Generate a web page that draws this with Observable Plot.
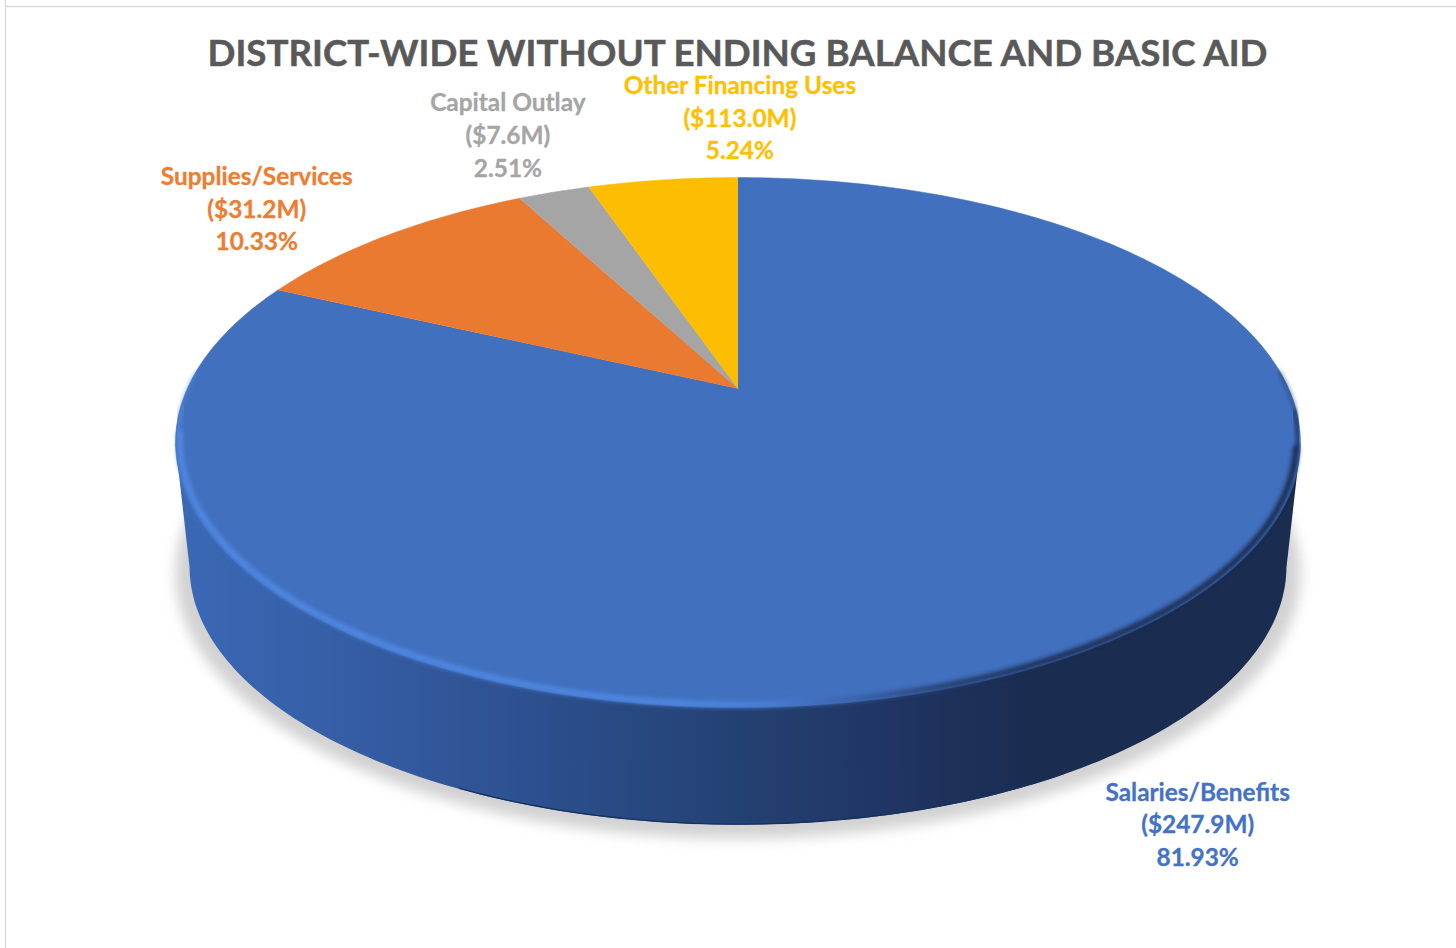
<!DOCTYPE html>
<html>
<head>
<meta charset="utf-8">
<script src="https://cdn.jsdelivr.net/npm/d3@7"></script>
<script src="https://cdn.jsdelivr.net/npm/@observablehq/plot@0.6"></script>
<style>
html,body{margin:0;padding:0;background:#fff;overflow:hidden}
svg{display:block}
</style>
</head>
<body>
<div id="chart"></div>
<script>
const titleText = "DISTRICT-WIDE WITHOUT ENDING BALANCE AND BASIC AID";
const categories = ["Salaries/Benefits", "Supplies/Services", "Capital Outlay", "Other Financing Uses"];
const amounts = ["$247.9M", "$31.2M", "$7.6M", "$113.0M"];
const percents = [81.93, 10.33, 2.51, 5.24];
const colors = ["#4170bf", "#ea7a30", "#a5a5a5", "#fdbd00"];
const textColors = ["#4472c4", "#ed7d31", "#a5a5a5", "#ffc000"];

// Perspective view of the pie disc (chart units are the frame's pixels)
const cx = 737.5, apexY = 388, persp = 0.2038, radiusX = 550.7, radiusY = 174.9;
const wallScale = 0.975, wallDrop = 124, faceMidY = 442;
function project(deg, r = 1) {
  const a = deg * Math.PI / 180, u = r * Math.sin(a), v = r * Math.cos(a), w = 1 + persp * v;
  return {x: cx + radiusX * u / w, y: (apexY - radiusY * v) / w};
}
function lowered(p, k = wallScale, drop = wallDrop) {
  return {x: cx + (p.x - cx) * k, y: faceMidY + drop + (p.y - faceMidY) * k};
}
function sweep(from, to, fn) {
  const out = [], n = Math.max(2, Math.ceil(Math.abs(to - from)));
  for (let i = 0; i <= n; i++) out.push(fn(from + (to - from) * i / n));
  return out;
}

// Slices
const total = d3.sum(percents);
let running = 0;
const slices = categories.map((name, i) => {
  const start = running / total * 360;
  running += percents[i];
  const end = running / total * 360;
  return {name, i, start, end, mid: (start + end) / 2};
});
const slicePts = slices.flatMap(s => [
  {name: s.name, ...project(0, 0)},
  ...sweep(s.start, s.end, d => ({name: s.name, ...project(d)}))
]);

// Disc outline: left-most and right-most points of the rim
const rim = sweep(0, 360, d => project(d));
const leftDeg = d3.least(d3.range(180, 360), d => project(d).x);
const rightDeg = d3.greatest(d3.range(0, 180), d => project(d).x);
const wallPts = [
  project(leftDeg),
  ...sweep(leftDeg, rightDeg, d => lowered(project(d))),
  project(rightDeg)
];
const bottomEdge = sweep(205, 150, d => lowered(project(d), wallScale, wallDrop - 0.8));
const shadowPts = rim.map(p => lowered(p, 1.0, 131));
// Bevel along the rim, thinning out towards its two ends
const bevels = [
  {pts: sweep(leftDeg + 16, leftDeg + 8, d => project(d, 0.9985)), width: 1.6},
  {pts: sweep(leftDeg + 8, leftDeg + 2, d => project(d, 0.996)), width: 3.5},
  {pts: sweep(leftDeg + 2, rightDeg + 1, d => project(d, 0.9925)), width: 6},
  {pts: sweep(rightDeg + 1, rightDeg - 7, d => project(d, 0.996)), width: 3.5},
  {pts: sweep(rightDeg - 7, rightDeg - 16, d => project(d, 0.9985)), width: 1.6}
];

// Label anchors: rim point at the slice's mid-angle, pushed out by a placement offset
const labelOffsetX = [102, -131, -46, 77];
const labelOffsetY = [176, -28, -58.5, -63.5];
const labels = slices.map((s, i) => {
  const p = project(s.mid);
  return {
    x: p.x + labelOffsetX[i], y: p.y + labelOffsetY[i], name: s.name,
    text: `${s.name}\n(${amounts[i]})\n${percents[i].toFixed(2)}%`
  };
});

function defs() {
  const g = document.createElementNS("http://www.w3.org/2000/svg", "defs");
  g.innerHTML = `
  <linearGradient id="wallFill" gradientUnits="userSpaceOnUse" x1="175" x2="1300" y1="0" y2="0">
    <stop offset="0" stop-color="#3b69b6"/>
    <stop offset="0.2" stop-color="#335a9f"/>
    <stop offset="0.36" stop-color="#2a4c88"/>
    <stop offset="0.52" stop-color="#233f70"/>
    <stop offset="0.66" stop-color="#1f3360"/>
    <stop offset="0.76" stop-color="#1a2c50"/>
    <stop offset="1" stop-color="#1a2c50"/>
  </linearGradient>
  <linearGradient id="bevelStroke" gradientUnits="userSpaceOnUse" x1="175" x2="1300" y1="0" y2="0">
    <stop offset="0" stop-color="#4f88e2"/>
    <stop offset="0.45" stop-color="#4f88e2"/>
    <stop offset="0.52" stop-color="#4b80d8"/>
    <stop offset="0.6" stop-color="#3a63ad"/>
    <stop offset="0.68" stop-color="#26406f"/>
    <stop offset="0.78" stop-color="#1b2e54"/>
    <stop offset="1" stop-color="#1a2c50"/>
  </linearGradient>
  <filter id="soft" x="-10%" y="-10%" width="120%" height="120%"><feGaussianBlur stdDeviation="2"/></filter>
  <filter id="edge" x="-10%" y="-10%" width="120%" height="120%"><feGaussianBlur stdDeviation="0.6"/></filter>
  <filter id="shade" x="-10%" y="-10%" width="120%" height="130%"><feGaussianBlur stdDeviation="6.5"/></filter>`;
  return g;
}
const withFilter = id => (index, scales, values, dims, ctx, next) => {
  const g = next(index, scales, values, dims, ctx);
  g.setAttribute("filter", `url(#${id})`);
  return g;
};

const font = "Lato, Carlito, Calibri, sans-serif";
const plot = Plot.plot({
  width: 1456, height: 948,
  margin: 0,
  x: {axis: null, domain: [0, 1456]},
  y: {axis: null, domain: [948, 0]},
  color: {domain: categories, range: colors},
  marks: [
    defs,
    Plot.ruleX([5], {stroke: "#d9d9d9", strokeWidth: 1.3}),
    Plot.ruleY([6], {stroke: "#d9d9d9", strokeWidth: 1.3, x1: 5, x2: 1456}),
    Plot.line(shadowPts, {x: "x", y: "y", fill: "#d2d2d2", stroke: "none", render: withFilter("shade")}),
    Plot.line(wallPts, {x: "x", y: "y", fill: "url(#wallFill)", stroke: "none"}),
    Plot.line(bottomEdge, {x: "x", y: "y", stroke: "#17305f", strokeWidth: 1.2, render: withFilter("edge")}),
    Plot.line(slicePts, {x: "x", y: "y", z: "name", fill: "name", stroke: "name", strokeWidth: 0.5}),
    ...bevels.map(b => Plot.line(b.pts, {x: "x", y: "y", stroke: "url(#bevelStroke)", strokeWidth: b.width, render: withFilter("soft")})),
    Plot.text([titleText], {
      x: () => 737, y: () => 53.5, text: d => d, fontFamily: font, fontWeight: 700,
      fontSize: 36.7, fill: "#595959", stroke: "#595959", strokeWidth: 0.5
    }),
    ...labels.map((l, i) => Plot.text([l], {
      x: "x", y: "y", text: "text", lineHeight: 1.336, fontFamily: font, fontWeight: 700,
      fontSize: 24.4, fill: textColors[i], stroke: textColors[i], strokeWidth: 0.3
    }))
  ]
});
document.getElementById("chart").append(plot);
</script>
</body>
</html>
